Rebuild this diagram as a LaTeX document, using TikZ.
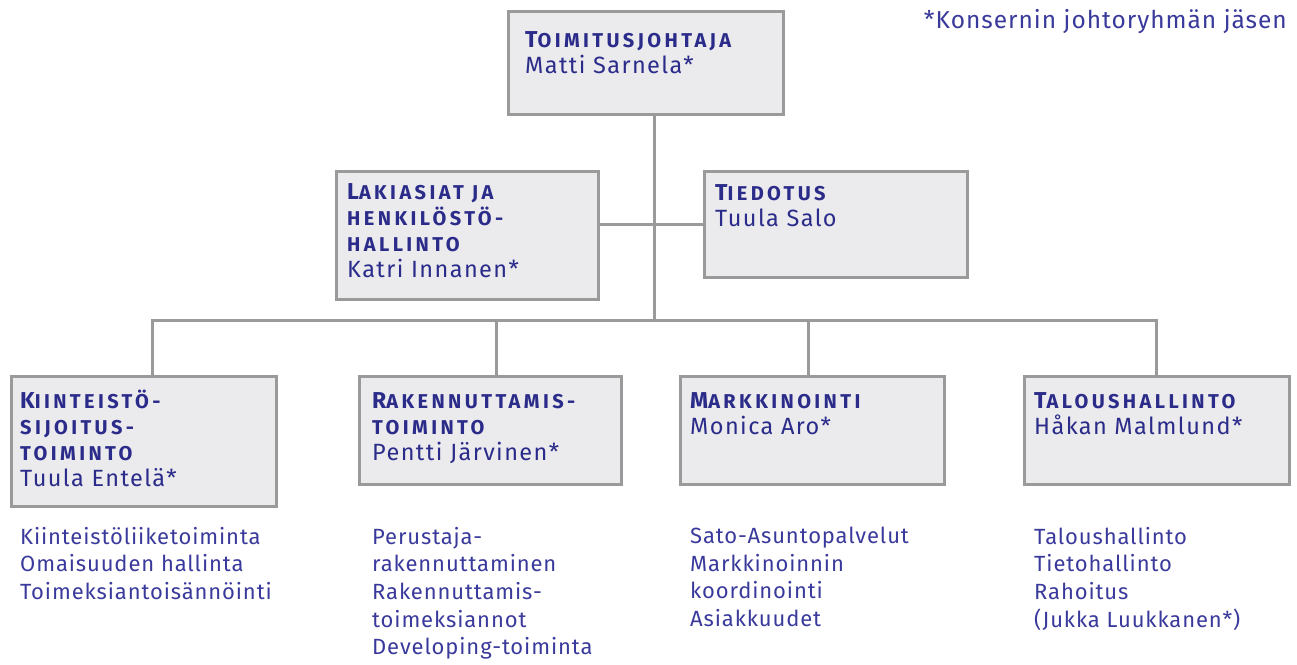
\documentclass[tikz,border=0pt]{standalone}
\usepackage{fontspec}
\setmainfont{Fira Sans}[LetterSpace=6]
\IfFontExistsTF{FiraSans-Light.otf}
  {\newfontfamily\lightf{FiraSans-Light.otf}[LetterSpace=4]}
  {\newfontfamily\lightf{Fira Sans}[LetterSpace=4]}
\IfFontExistsTF{FiraSans-SemiBold.otf}
  {\newfontfamily\titlef{FiraSans-SemiBold.otf}[LetterSpace=17]}
  {\newfontfamily\titlef{Fira Sans}[LetterSpace=17,UprightFont=*-Bold]}
\definecolor{tb}{HTML}{2B2B8A}
\definecolor{tl}{HTML}{3A3A9C}
\definecolor{bx}{HTML}{9A9A9A}
\definecolor{bf}{HTML}{EBEBEE}
\newcommand{\scap}[2]{{\titlef\fontsize{23}{26}\selectfont #1\fontsize{20}{26}\selectfont #2}}
\tikzset{
  box/.style={draw=bx, line width=3pt, fill=bf, inner sep=0pt, anchor=north west},
  lbl/.style={anchor=north west, align=left, inner sep=0pt, text=tb, font=\fontsize{23.5}{26}\selectfont},
  lst/.style={anchor=north west, align=left, inner sep=0pt, text=tl, font=\lightf\fontsize{22}{27.6}\selectfont},
  conn/.style={draw=bx, line width=3pt}
}
\begin{document}
\begin{tikzpicture}[x=1pt,y=-1pt]
\useasboundingbox (0,0) rectangle (1297,664);
% boxes
\node[box, minimum width=275pt, minimum height=103pt] (top) at (507,10) {};
\node[box, minimum width=262pt, minimum height=128pt] (lak) at (335,170) {};
\node[box, minimum width=263pt, minimum height=106pt] (tied) at (703,170) {};
\node[box, minimum width=265pt, minimum height=130pt] (kiin) at (10,375) {};
\node[box, minimum width=262pt, minimum height=108pt] (rak) at (358,375) {};
\node[box, minimum width=264pt, minimum height=108pt] (mark) at (679,375) {};
\node[box, minimum width=265pt, minimum height=108pt] (tal) at (1023,375) {};
% connectors
\coordinate (bus) at (654,320);
\draw[conn] (bus |- top.south) -- (bus);
\draw[conn] (tied.west) -- (tied.west -| lak.east);
\draw[conn] ([xshift=8pt]kiin.north) |- (bus) -| ([xshift=-1pt]tal.north);
\draw[conn] ([xshift=6pt]rak.north) -- ([xshift=6pt]rak.north |- bus);
\draw[conn] ([xshift=-4pt]mark.north) -- ([xshift=-4pt]mark.north |- bus);
% box texts
\node[lbl] (toptx) at ([shift={(18,21)}]top.north west) {\scap{T}{OIMITUSJOHTAJA}\\Matti Sarnela*};
\node[lbl] (laktx) at ([shift={(12,13)}]lak.north west) {\scap{L}{AKIASIAT JA}\\\scap{}{HENKILÖSTÖ-}\\\scap{}{HALLINTO}\\Katri Innanen*};
\node[lbl] (tiedtx) at ([shift={(12,14)}]tied.north west) {\scap{T}{IEDOTUS}\\Tuula Salo};
\node[lbl] (kiintx) at ([shift={(10,15)}]kiin.north west) {\scap{K}{IINTEISTÖ-}\\\scap{}{SIJOITUS-}\\\scap{}{TOIMINTO}\\Tuula Entelä*};
\node[lbl] (raktx) at ([shift={(14,17)}]rak.north west) {\scap{R}{AKENNUTTAMIS-}\\\scap{}{TOIMINTO}\\Pentti Järvinen*};
\node[lbl] (marktx) at ([shift={(11,17)}]mark.north west) {\scap{M}{ARKKINOINTI}\\Monica Aro*};
\node[lbl] (taltx) at ([shift={(11,17)}]tal.north west) {\scap{T}{ALOUSHALLINTO}\\Håkan Malmlund*};
% lists
\node[lst] (kiinl) at (20,527) {Kiinteistöliiketoiminta\\Omaisuuden hallinta\\Toimeksiantoisännöinti};
\node[lst] (rakl) at (372,527) {Perustaja-\\rakennuttaminen\\Rakennuttamis-\\toimeksiannot\\Developing-toiminta};
\node[lst] (markl) at (690,527) {Sato-Asuntopalvelut\\Markkinoinnin\\koordinointi\\Asiakkuudet};
\node[lst] (tall) at (1034,527) {Taloushallinto\\Tietohallinto\\Rahoitus\\(Jukka Luukkanen*)};
% footnote
\node[anchor=north east, inner sep=0pt, text=tl, font=\lightf\fontsize{24.5}{26}\selectfont] (note) at (1287,9) {*Konsernin johtoryhmän jäsen};
\end{tikzpicture}
\end{document}
